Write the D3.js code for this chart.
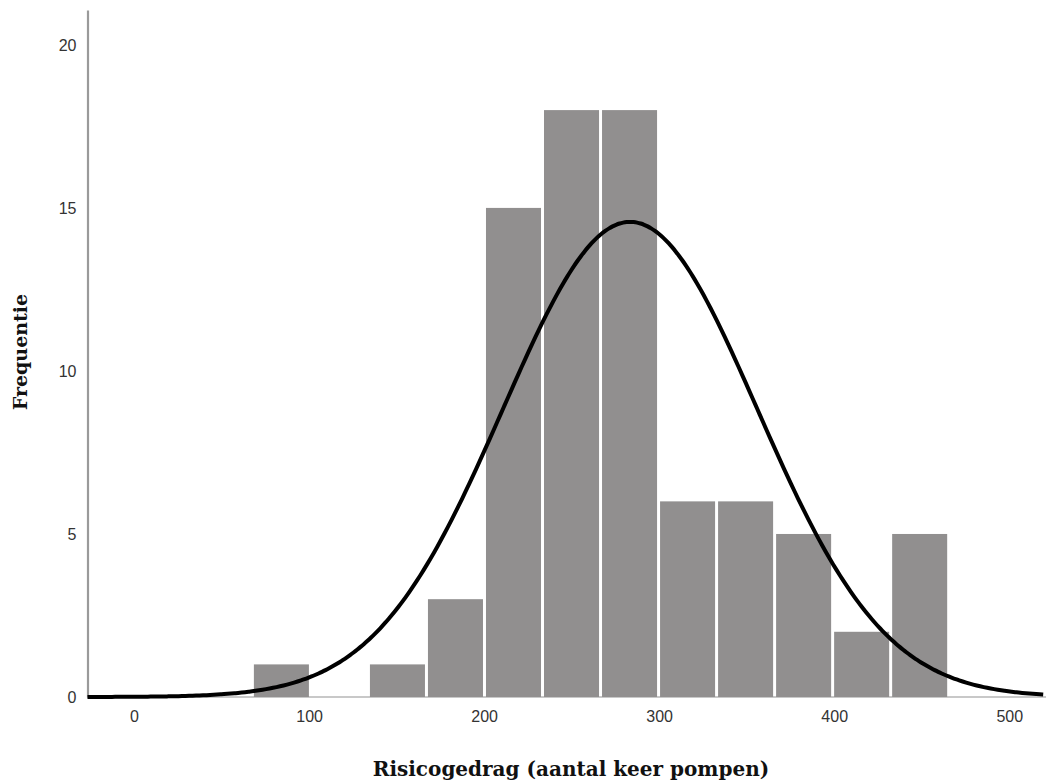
<!DOCTYPE html>
<html><head><meta charset="utf-8">
<script src="https://cdn.jsdelivr.net/npm/d3@7"></script>
<style>body{margin:0;background:#fff}</style>
</head><body>
<svg id="chart" width="1049" height="782"></svg>
<script>
// Histogram bins (lower edges) and frequencies
const binStart = 67.6;
const binWidth = 33.15;
const counts = [1, 0, 1, 3, 15, 18, 18, 6, 6, 5, 2, 5];
const xTicks = [0, 100, 200, 300, 400, 500];
const yTicks = [0, 5, 10, 15, 20];
const curveMean = 283.4;
const curveSD = 72.6;
const xLabel = "Risicogedrag (aantal keer pompen)";
const yLabel = "Frequentie";

(function(){
const svg = d3.select("#chart");
const mLeft = 87.5, mRight = 1046, mTop = 10, mBottom = 697;
const x = d3.scaleLinear().domain([-26.6, 521]).range([mLeft, mRight]);
const y = d3.scaleLinear().domain([0, 21.07]).range([mBottom, mTop]);

const bins = counts.map((c, i) => ({x0: binStart + i*binWidth, x1: binStart + (i+1)*binWidth, c}));
const N = d3.sum(counts);

// x baseline
svg.append("line").attr("x1", mLeft).attr("x2", mRight).attr("y1", mBottom).attr("y2", mBottom)
  .attr("stroke", "#c8c8c8").attr("stroke-width", 2);

svg.append("g").selectAll("rect").data(bins.filter(d => d.c > 0)).join("rect")
  .attr("x", d => x(d.x0) + 1.5)
  .attr("width", d => x(d.x1) - x(d.x0) - 3)
  .attr("y", d => y(d.c))
  .attr("height", d => y(0) - y(d.c))
  .attr("fill", "#918f8f");

// y axis
const yAxis = svg.append("g").attr("transform", `translate(${mLeft},0)`)
  .call(d3.axisLeft(y).tickValues(yTicks).tickSize(0).tickPadding(11));
yAxis.select(".domain").attr("stroke", "#9a9a9a").attr("stroke-width", 2.2);
yAxis.selectAll("text").attr("font-family", "Liberation Sans, Arial, sans-serif")
  .attr("font-size", 16).attr("fill", "#333");

// x axis
const xAxis = svg.append("g").attr("transform", `translate(0,${mBottom})`)
  .call(d3.axisBottom(x).tickValues(xTicks).tickSize(0).tickPadding(14));
xAxis.select(".domain").remove();
xAxis.selectAll("text").attr("font-family", "Liberation Sans, Arial, sans-serif")
  .attr("font-size", 16).attr("fill", "#333");

// normal curve
const pts = d3.range(-26.6, 521.01, 2).map(v => [v,
  N * binWidth / (curveSD * Math.sqrt(2*Math.PI)) * Math.exp(-0.5*Math.pow((v-curveMean)/curveSD, 2))]);
svg.append("path").datum(pts)
  .attr("d", d3.line().x(d => x(d[0])).y(d => y(d[1])).curve(d3.curveBasis))
  .attr("fill", "none").attr("stroke", "#000").attr("stroke-width", 4);

svg.append("text").attr("x", 571).attr("y", 776).attr("text-anchor", "middle")
  .attr("font-family", "DejaVu Serif, serif").attr("font-weight", "bold").attr("font-size", 20)
  .attr("fill", "#111").text(xLabel);
svg.append("text").attr("transform", "translate(27,352) rotate(-90)").attr("text-anchor", "middle")
  .attr("font-family", "DejaVu Serif, serif").attr("font-weight", "bold").attr("font-size", 19)
  .attr("fill", "#111").text(yLabel);
})();
</script>
</body></html>
